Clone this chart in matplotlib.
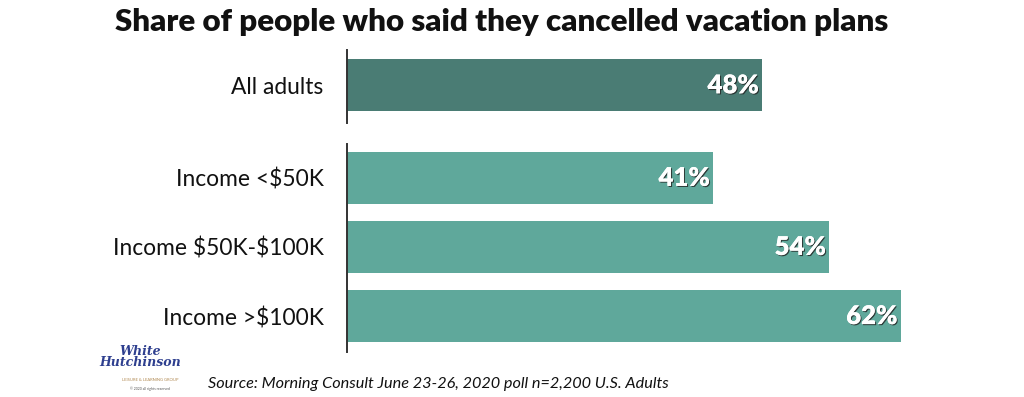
import matplotlib
matplotlib.use("Agg")
import matplotlib.pyplot as plt
from matplotlib import patheffects as pe

plt.rcParams["text.parse_math"] = False

top_cat = ["All adults"]
top_val = [48]
inc_cats = ["Income <$50K", "Income $50K-$100K", "Income >$100K"]
inc_vals = [41, 54, 62]
title = "Share of people who said they cancelled vacation plans"
source = "Source: Morning Consult June 23-26, 2020 poll n=2,200 U.S. Adults"

W, H = 1024, 397
fig = plt.figure(figsize=(W/100, H/100), dpi=100)
FONT = "Lato"

def fr(x0, y0, x1, y1):
    return [x0/W, 1 - y1/H, (x1-x0)/W, (y1-y0)/H]

ax_l, ax_r = 347, 972

shadow = [pe.withSimplePatchShadow(offset=(0.8, -0.8), shadow_rgbFace="#222222", alpha=0.8), pe.Normal()]

def draw(ax, cats, vals, color, ylim, height, xmax):
    y = list(range(len(cats)))
    ax.barh(y, vals, height=height, color=color)
    ax.set_xlim(0, xmax)
    ax.set_ylim(*ylim)
    ax.set_yticks(y)
    ax.set_yticklabels(cats, fontsize=16.4, family=FONT, color="#111111")
    ax.tick_params(axis="y", length=0, pad=17)
    ax.set_xticks([])
    for s in ["top", "right", "bottom"]:
        ax.spines[s].set_visible(False)
    ax.spines["left"].set_color("#333333")
    ax.spines["left"].set_linewidth(1.4)
    for yi, v in zip(y, vals):
        ax.text(v - 0.35, yi, f"{v}%", ha="right", va="center", color="white",
                fontsize=18.5, fontweight="heavy", family=FONT, path_effects=shadow)

ax1 = fig.add_axes(fr(ax_l, 50, ax_r, 123))
draw(ax1, top_cat, top_val, "#4A7C74", (0.518, -0.485), 0.712, 72.3)

ax2 = fig.add_axes(fr(ax_l, 144, ax_r, 352))
draw(ax2, inc_cats, inc_vals, "#5FA89B", (2.52, -0.49), 0.754, 70)

fig.text(502/W, 1 - 22/H, title, ha="center", va="center", fontsize=22.5,
         fontweight="heavy", family=FONT, color="#111111")
fig.text(208/W, 1 - 384/H, source, ha="left", va="center", fontsize=11.7,
         style="italic", family=FONT, color="#111111")

# logo approximation
fig.text(140/W, 1 - 357/H, "White\nHutchinson", ha="center", va="center", fontsize=9,
         style="italic", fontweight="bold", family="DejaVu Serif", color="#2E3F8F",
         linespacing=0.8)
fig.text(150/W, 1 - 380/H, "LEISURE & LEARNING GROUP", ha="center", va="center",
         fontsize=3, family=FONT, color="#B08850")
fig.text(150/W, 1 - 389/H, "© 2020 all rights reserved", ha="center", va="center",
         fontsize=2.5, family=FONT, color="#555555")

fig.savefig("out.png", dpi=100)
